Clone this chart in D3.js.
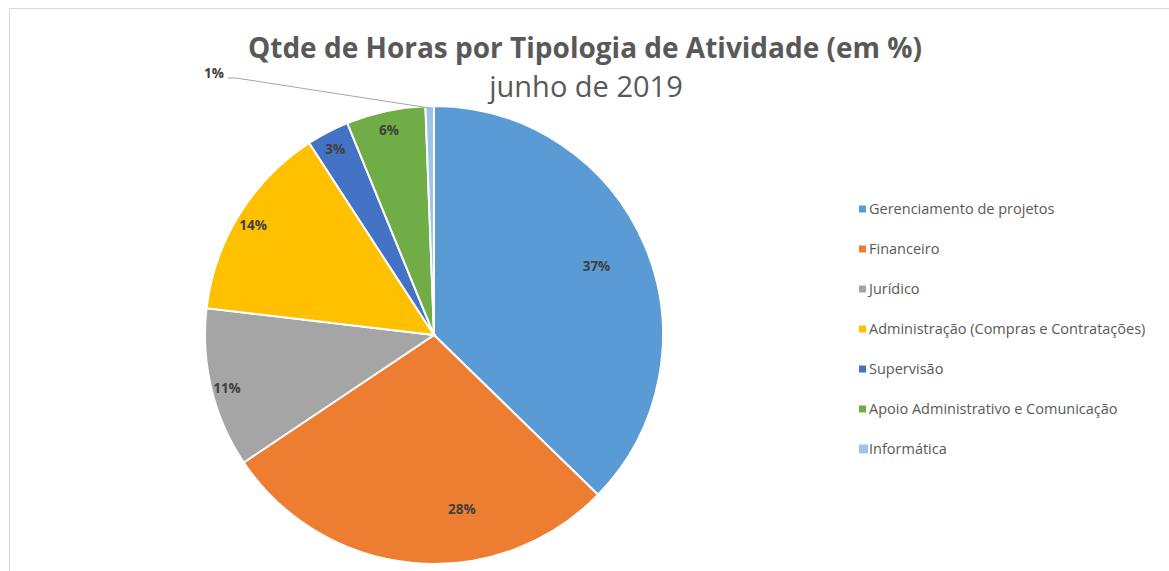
<!DOCTYPE html>
<html>
<head>
<meta charset="utf-8">
<script src="https://cdn.jsdelivr.net/npm/d3@7/dist/d3.min.js"></script>
<style>
  html, body { margin: 0; padding: 0; background: #fff; }
  svg { display: block; }
</style>
</head>
<body>
<div id="chart"></div>
<script>
// Data (hours share, %)
const categories = [
  "Gerenciamento de projetos",
  "Financeiro",
  "Jurídico",
  "Administração (Compras e Contratações)",
  "Supervisão",
  "Apoio Administrativo e Comunicação",
  "Informática"
]
const values = [37.4, 28.4, 11.3, 14.0, 3.0, 5.6, 0.6]
const colors = ["#5B9BD5", "#ED7D31", "#A5A5A5", "#FFC000", "#4472C4", "#70AD47", "#9DC3E6"]

const title = "Qtde de Horas por Tipologia de Atividade (em %)"
const subtitle = "junho de 2019"

const W = 1169, H = 571
const FONT = "'Open Sans', 'Noto Sans', sans-serif"
const TEXT = "#595959"

const svg = d3.select("#chart").append("svg")
  .attr("width", W)
  .attr("height", H)

// chart area border (only top and left visible in the crop)
svg.append("path")
  .attr("d", `M9.5,${H} V8.5 H${W}`)
  .attr("fill", "none")
  .attr("stroke", "#d9d9d9")
  .attr("stroke-width", 1)

// Titles
svg.append("text")
  .attr("x", 585).attr("y", 58)
  .attr("text-anchor", "middle")
  .attr("font-family", FONT)
  .attr("font-weight", "bold")
  .attr("font-size", "28px")
  .attr("fill", TEXT)
  .text(title)

svg.append("text")
  .attr("x", 586).attr("y", 97)
  .attr("text-anchor", "middle")
  .attr("font-family", FONT)
  .attr("font-size", "29px")
  .attr("fill", TEXT)
  .text(subtitle)

// Pie
const cx = 434, cy = 335, R = 229
const total = d3.sum(values)
const data = categories.map((c, i) => ({ name: c, value: values[i], color: colors[i] }))

const pie = d3.pie().value(d => d.value).sort(null)
const arcs = pie(data)
const arc = d3.arc().innerRadius(0).outerRadius(R)

const g = svg.append("g").attr("transform", `translate(${cx},${cy})`)

g.selectAll("path.slice")
  .data(arcs)
  .join("path")
  .attr("class", "slice")
  .attr("d", arc)
  .attr("fill", d => d.data.color)
  .attr("stroke", "#fff")
  .attr("stroke-width", 2)

// Labels: big slices inside, small slices near the rim (Excel best fit)
const pct = d => Math.round(d.value / total * 100) + "%"
const labelPos = d => {
  const big = d.value / total > 0.2
  const r = R * (big ? 0.77 : 0.93)
  // Excel's best fit pulls the second big label toward the slice start
  const t = big && d.index > 0 ? 0.36 : 0.5
  const a = d.startAngle + (d.endAngle - d.startAngle) * t
  return [Math.sin(a) * r, -Math.cos(a) * r + (big ? 0 : 3)]
}

const inside = arcs.filter(d => d.value / total >= 0.02)
g.selectAll("text.lbl")
  .data(inside)
  .join("text")
  .attr("class", "lbl")
  .attr("transform", d => `translate(${labelPos(d)})`)
  .attr("dy", "0.35em")
  .attr("text-anchor", "middle")
  .attr("font-family", FONT)
  .attr("font-weight", "bold")
  .attr("font-size", "13.5px")
  .attr("fill", "#404040")
  .text(pct)

// Tiny slice label outside with leader line
const tiny = arcs.filter(d => d.value / total < 0.02)
tiny.forEach(d => {
  const mid = (d.startAngle + d.endAngle) / 2
  const px = Math.sin(mid) * R, py = -Math.cos(mid) * (R - 2)
  const lx = -206, ly = -257
  g.append("polyline")
    .attr("points", `${lx},${ly} ${lx + 8},${ly} ${px},${py}`)
    .attr("fill", "none")
    .attr("stroke", "#a6a6a6")
    .attr("stroke-width", 1)
  g.append("text")
    .attr("x", lx - 4).attr("y", ly - 5)
    .attr("dy", "0.35em")
    .attr("text-anchor", "end")
    .attr("font-family", FONT)
    .attr("font-weight", "bold")
    .attr("font-size", "13.5px")
    .attr("fill", "#404040")
    .text(pct(d))
})

// Legend
const legendY = d3.scalePoint().domain(categories).range([209, 449])
const legend = svg.append("g")
legend.selectAll("g")
  .data(data)
  .join("g")
  .attr("transform", d => `translate(859,${legendY(d.name)})`)
  .each(function(d, i) {
    const el = d3.select(this)
    const s = i === data.length - 1 ? 9 : 7
    el.append("rect")
      .attr("x", 0).attr("y", -s / 2)
      .attr("width", s).attr("height", s)
      .attr("fill", d.color)
    el.append("text")
      .attr("x", 10)
      .attr("dy", "0.35em")
      .attr("font-family", FONT)
      .attr("font-size", "14.5px")
      .attr("fill", TEXT)
      .text(d.name)
  })
</script>
</body>
</html>
